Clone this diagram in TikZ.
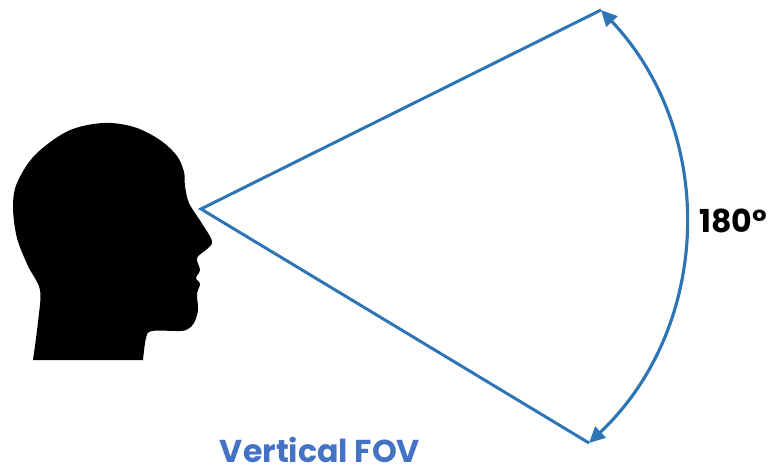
\documentclass[tikz,border=0pt]{standalone}
\usepackage{fontspec}
\setmainfont{Poppins}
\usetikzlibrary{arrows.meta}
\definecolor{fovblue}{HTML}{2E75B6}
\definecolor{titleblue}{HTML}{4472C4}
\tikzset{
  ray/.style={draw=fovblue,line width=1.7pt},
  span/.style={draw=fovblue,line width=1.8pt,{Triangle[length=0.32cm,width=0.3cm]}-{Triangle[length=0.32cm,width=0.3cm]}},
  lbl/.style={font=\fontsize{18}{20}\selectfont\bfseries,inner sep=0pt}
}
\begin{document}
\begin{tikzpicture}[x=0.02cm,y=-0.02cm]
 \useasboundingbox (0,0) rectangle (772,470);
 % head
 \fill[black] plot[smooth,tension=0.55] coordinates {(143,360) (146,338) (152,331) (180,331) (188,329) (194,323) (198,310) (197,294) (200,284) (196,278) (200,270) (197,258) (207,249) (212,241) (201,222) (189,203) (185,186) (184,172) (177,156) (160,140) (134,127) (103,123) (68,131) (35,155) (17,183) (13,207) (17,238) (28,266) (40,290) (38,322) (33,360)} -- cycle;
 % field of view
 \coordinate (eye) at (201,209);
 \coordinate (top) at (601,10);
 \coordinate (bot) at (589,443);
 \draw[ray] (top) -- (eye) -- (bot);
 \draw[span] (bot) to[bend right=45] (top);
 \node[lbl] (angle) at (733,221) {180°};
 \node[lbl,text=titleblue] (title) at (320,450) {Vertical FOV};
\end{tikzpicture}
\end{document}
